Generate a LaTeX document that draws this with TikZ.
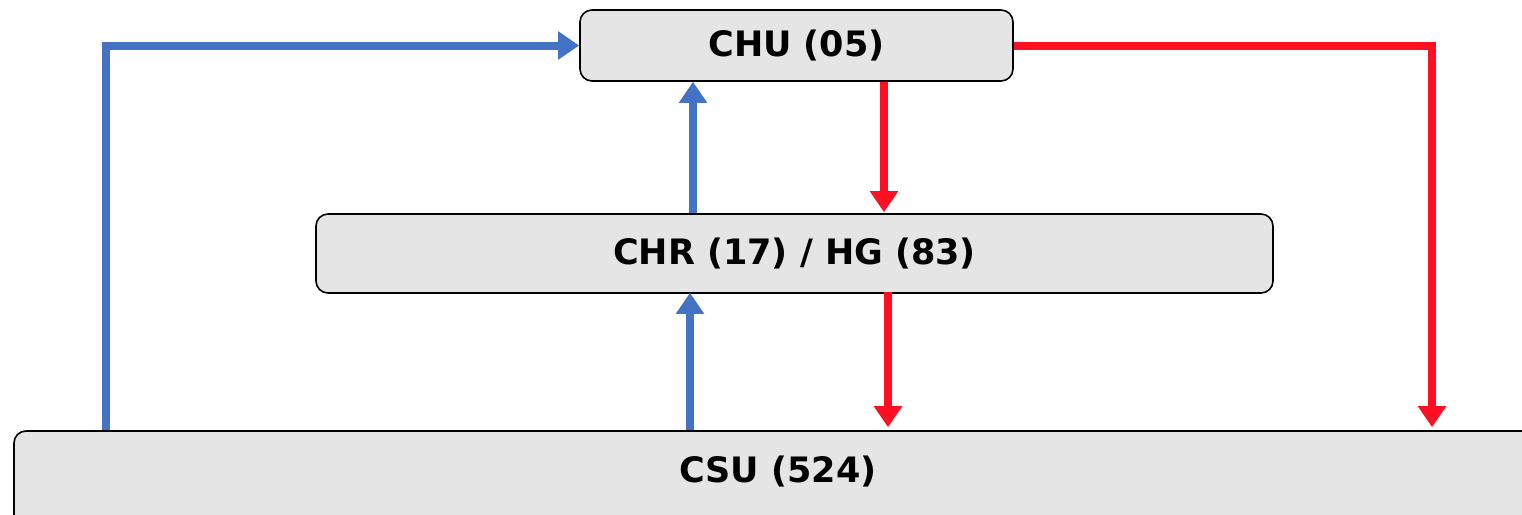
\documentclass[tikz,border=0pt]{standalone}
\usepackage{fontspec}
\setmainfont{DejaVu Sans}
\usetikzlibrary{arrows.meta}
\definecolor{boxfill}{HTML}{E5E5E5}
\definecolor{bluearr}{HTML}{4472C4}
\definecolor{redarr}{HTML}{FF0F22}
\tikzset{
  unitbox/.style={draw=black, line width=1.6pt, fill=boxfill, rounded corners=12pt,
    inner sep=0pt, font=\fontsize{35}{38}\selectfont\bfseries},
  unittext/.style={font=\fontsize{35}{38}\selectfont\bfseries},
  bluearrow/.style={draw=bluearr, line width=8pt, -{Triangle[width=27pt,length=21pt]}},
  redarrow/.style={draw=redarr, line width=8pt, -{Triangle[width=27pt,length=21pt]}}
}
\begin{document}
\begin{tikzpicture}[x=1pt,y=-1pt]
\useasboundingbox (0,0) rectangle (1522,514);
\clip (0,0) rectangle (1522,514);
\fill[white] (0,0) rectangle (1522,514);
\node[unitbox, minimum width=433pt, minimum height=71pt] (chu) at (796.5,45.5) {\raisebox{-2.5pt}{CHU (05)}};
\node[unitbox, minimum width=957pt, minimum height=79pt] (chr) at (794.5,253.5) {\raisebox{-2pt}{CHR (17) / HG (83)}};
\node[unitbox, minimum width=1528pt, minimum height=100pt] (csu) at (778,481) {};
\node[unittext] (csutext) at (778,472) {CSU (524)};
% blue arrows
\draw[bluearrow] (csu.north -| 106,0) |- (chu.west);
\draw[bluearrow] (chr.north -| 693,0) -- (chu.south -| 693,0);
\draw[bluearrow] (csu.north -| 690,0) -- ([yshift=1pt]chr.south -| 690,0);
% red arrows
\draw[redarrow, shorten >=3pt] (chu.east) -| (csu.north -| 1432,0);
\draw[redarrow, shorten >=1pt] (chu.south -| 884,0) -- (chr.north -| 884,0);
\draw[redarrow, shorten >=3pt] ([yshift=2pt]chr.south -| 888,0) -- (csu.north -| 888,0);
\end{tikzpicture}
\end{document}
